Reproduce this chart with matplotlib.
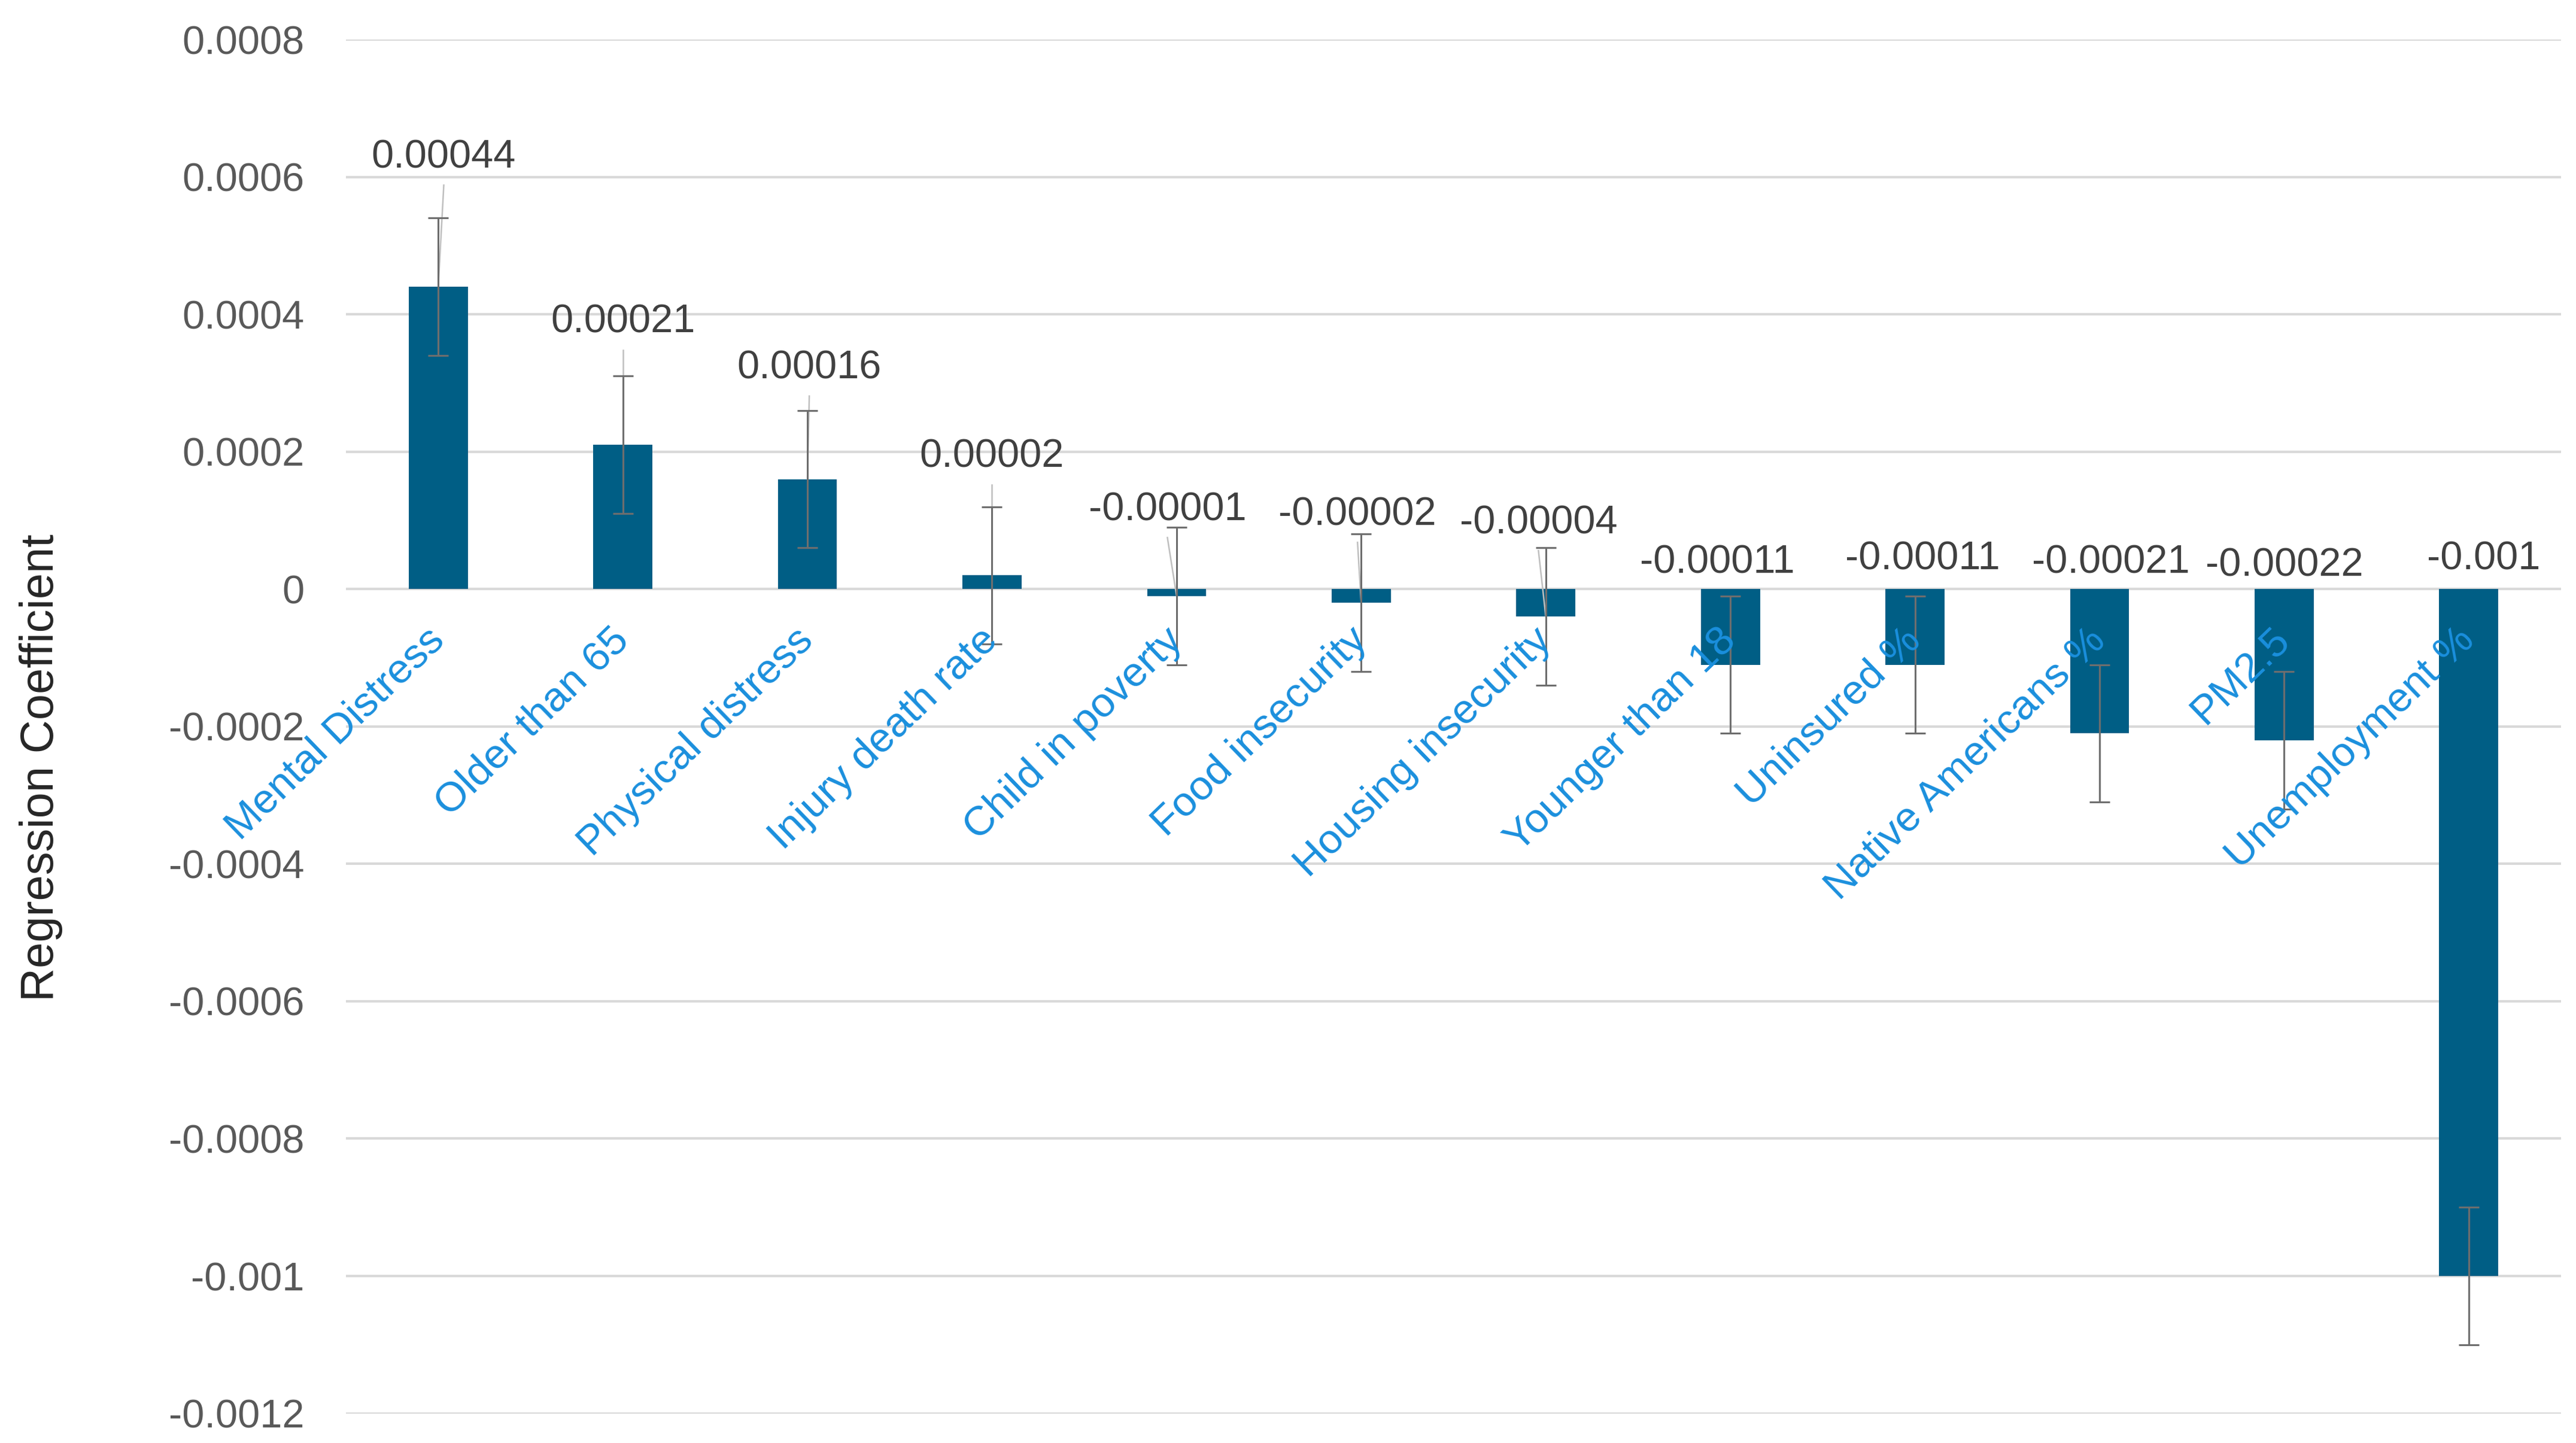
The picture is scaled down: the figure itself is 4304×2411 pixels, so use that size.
import matplotlib
matplotlib.use("Agg")
from matplotlib import pyplot as plt
import numpy as np

# regression coefficients per county factor
factors = ["Mental Distress", "Older than 65", "Physical distress", "Injury death rate",
           "Child in poverty", "Food insecurity", "Housing insecurity", "Younger than 18",
           "Uninsured %", "Native Americans %", "PM2.5", "Unemployment %"]
coef = [0.00044, 0.00021, 0.00016, 0.00002, -0.00001, -0.00002, -0.00004,
        -0.00011, -0.00011, -0.00021, -0.00022, -0.001]
coef_err = [0.0001] * 12
coef_text = ["0.00044", "0.00021", "0.00016", "0.00002", "-0.00001", "-0.00002", "-0.00004",
             "-0.00011", "-0.00011", "-0.00021", "-0.00022", "-0.001"]
y_ticks = [0.0008, 0.0006, 0.0004, 0.0002, 0, -0.0002, -0.0004, -0.0006,
           -0.0008, -0.001, -0.0012]

# where the data labels were dragged to (Excel style)
label_y = [0.000628, 0.000388, 0.000321, 0.000192, 0.000115, 0.000108, 0.000096,
           0.000038, 0.000043, 0.000038, 0.000034, 0.000043]
label_dx = [0.03, 0.0, 0.01, 0.0, -0.05, -0.02, -0.04, -0.07, 0.04, 0.06, 0.0, 0.08]

plt.rcParams["font.family"] = ["Liberation Sans", "DejaVu Sans"]

fig = plt.figure(figsize=(21.52, 12.055), dpi=200)
ax = fig.add_axes([0.1343, 0.0205, 0.8599, 0.9521])

x = np.arange(len(factors))
ax.bar(x, coef, width=0.32, color="#005E85", zorder=2)
ax.errorbar(x, coef, yerr=coef_err, fmt="none", ecolor="#6E6E6E",
            elinewidth=1.1, capsize=6, capthick=1.1, zorder=4)

for i, v in enumerate(coef):
    lx = i + label_dx[i]
    ax.text(lx, label_y[i], coef_text[i], ha="center", va="center",
            fontsize=24, color="#404040", zorder=5)
    # leader lines for the small bars
    if v > -0.0001:
        ax.plot([lx, i], [label_y[i] - 0.00004, v], color="#BFBFBF", lw=0.9, zorder=3)

# category labels hang from the zero line
for i, name in enumerate(factors):
    ax.annotate(name, xy=(i, 0), xytext=(-8, -19), textcoords="offset points",
                ha="right", va="top", rotation=44, rotation_mode="anchor",
                fontsize=25, color="#1A8FDD", zorder=5)

ax.set_xlim(-0.5, len(factors) - 0.5)
ax.set_ylim(-0.0012, 0.0008)
ax.set_yticks(y_ticks)
ax.set_yticklabels([("%.4f" % t).rstrip("0").rstrip(".") if t != 0 else "0" for t in y_ticks])
ax.set_xticks([])
ax.tick_params(axis="y", length=0, pad=25, labelsize=24, labelcolor="#595959")
ax.grid(axis="y", color="#D9D9D9", lw=1.5, zorder=0)
ax.set_axisbelow(True)
for s in ax.spines.values():
    s.set_visible(False)

fig.text(0.016, 0.468, "Regression Coefficient", rotation=90, ha="center", va="center",
         fontsize=28, color="#262626")

fig.savefig("out.png", dpi=200, facecolor="white")
